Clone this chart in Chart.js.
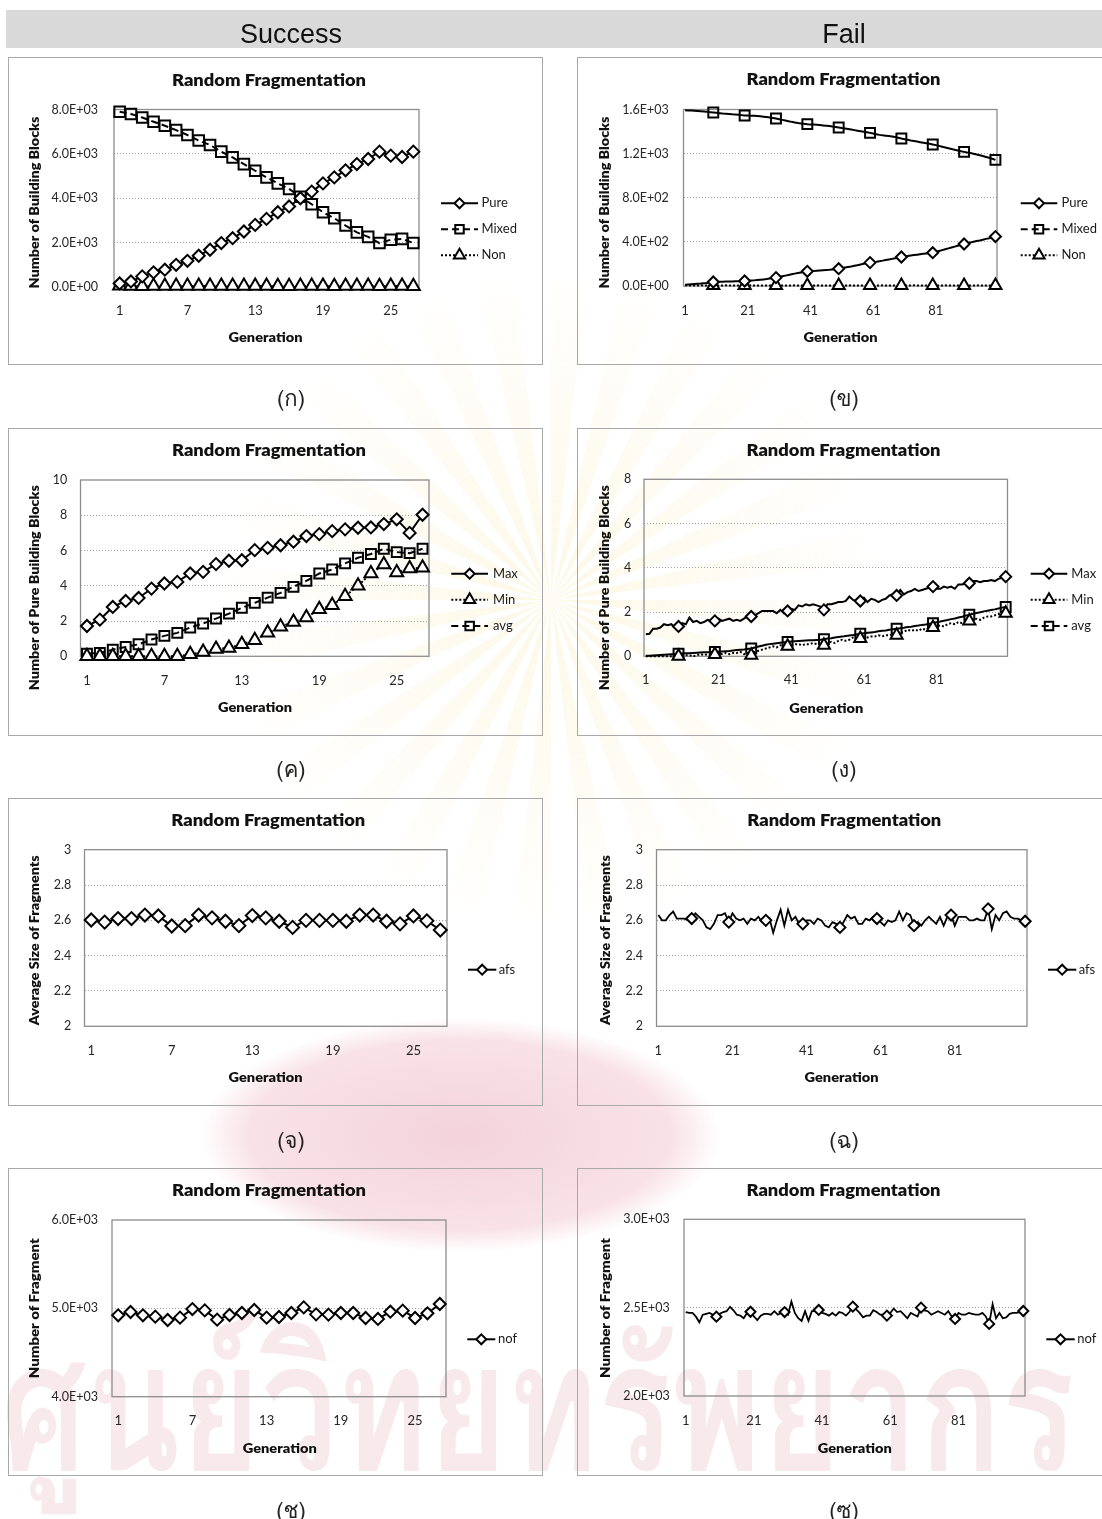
<!DOCTYPE html>
<html>
<head>
<meta charset="utf-8">
<script src="https://cdn.jsdelivr.net/npm/chart.js@4.4.1/dist/chart.umd.min.js"></script>
<style>
  html, body { margin: 0; padding: 0; background: #fff; }
  body { width: 1102px; height: 1519px; position: relative; overflow: hidden; }
  #wm { position: absolute; left: 0; top: 0; z-index: 0; }
  .band { position: absolute; left: 6px; top: 10px; width: 1096px; height: 38px; background: #d9d9d9; z-index: 1; }
  .head { position: absolute; top: 15px; height: 38px; width: 300px; margin-left: -150px;
          text-align: center; font: 27px "Liberation Sans", Arial, sans-serif; line-height: 38px; color: #111; z-index: 2; }
  .frame { position: absolute; border: 1px solid #a9a9a9; box-sizing: border-box; z-index: 1; }
  .cv { position: absolute; z-index: 3; }
  .cap { position: absolute; width: 80px; margin-left: -40px; text-align: center; z-index: 2;
         font: 22px "Norasi", "Kinnari", "Garuda", "Loma", "Noto Serif Thai", "Noto Sans Thai", "Waree", serif; color: #222; }
</style>
</head>
<body>
<canvas id="wm" width="1102" height="1519"></canvas>
<div class="band"></div>
<div class="head" style="left:291px">Success</div>
<div class="head" style="left:844px">Fail</div>
<div id="stage"></div>
<script>
// ---- generations (x categories) ----
const GEN27 = [1,2,3,4,5,6,7,8,9,10,11,12,13,14,15,16,17,18,19,20,21,22,23,24,25,26,27];
const GEN100 = [1,2,3,4,5,6,7,8,9,10,11,12,13,14,15,16,17,18,19,20,
  21,22,23,24,25,26,27,28,29,30,31,32,33,34,35,36,37,38,39,40,
  41,42,43,44,45,46,47,48,49,50,51,52,53,54,55,56,57,58,59,60,
  61,62,63,64,65,66,67,68,69,70,71,72,73,74,75,76,77,78,79,80,
  81,82,83,84,85,86,87,88,89,90,91,92,93,94,95,96,97,98,99,100];
const TICKS27 = [1,7,13,19,25];
const TICKS100 = [1,21,41,61,81];
const MARKED100 = [10,20,30,40,50,60,70,80,90,100];

// ---- (ก) building blocks, success ----
const BB_SUCCESS_PURE  = [160,250,480,660,780,1000,1180,1410,1680,1980,2200,2500,2800,3070,3370,3630,4000,4300,4670,4940,5260,5540,5770,6100,5920,5860,6100];
const BB_SUCCESS_MIXED = [7900,7800,7640,7450,7270,7070,6850,6600,6400,6100,5840,5540,5240,4940,4670,4420,4070,3730,3370,3100,2770,2460,2260,1980,2130,2170,1980];
const BB_SUCCESS_NON   = [60,45,30,50,45,40,40,45,50,40,45,40,45,40,35,30,40,40,45,30,45,40,45,35,40,45,35];

// ---- (ข) building blocks, fail ----
const BB_FAIL_PURE = [12,14,16,18,20,22,25,28,32,36, 37,38,39,40,40,41,42,43,44,45,
  47,49,51,54,57,60,63,67,71,76, 82,88,94,100,106,112,118,123,128,133,
  135,137,139,141,143,145,147,150,153,157, 162,167,172,177,183,189,195,201,206,212,
  216,220,225,230,236,241,246,251,257,263, 268,272,276,280,284,288,292,295,298,302,
  309,317,325,333,341,349,357,365,373,381, 388,395,401,407,413,420,427,433,440,448];
const BB_FAIL_MIXED = [1594,1592,1590,1588,1586,1584,1582,1579,1576,1573, 1570,1567,1564,1562,1560,1557,1555,1552,1549,1546,
  1545,1544,1543,1541,1538,1535,1531,1527,1523,1518, 1512,1506,1500,1494,1488,1483,1478,1474,1470,1467,
  1465,1463,1461,1459,1456,1453,1450,1446,1442,1437, 1432,1428,1423,1418,1413,1408,1403,1398,1393,1388,
  1382,1376,1370,1366,1363,1360,1356,1351,1344,1337, 1331,1325,1319,1314,1309,1304,1299,1294,1289,1283,
  1277,1270,1263,1256,1249,1242,1235,1229,1222,1216, 1210,1205,1199,1192,1185,1178,1170,1162,1153,1143];
const BB_FAIL_NON = [6,5,5,4,5,6,5,4,4,5, 5,4,5,6,5,4,4,5,5,4, 5,6,5,4,5,5,4,5,6,5,
  4,5,5,4,5,6,5,4,5,5, 4,5,5,6,5,4,5,5,4,5, 5,4,5,6,5,4,5,5,4,5,
  5,4,5,6,5,4,5,5,4,5, 5,4,5,6,5,4,5,5,4,5, 5,4,5,6,5,4,5,5,4,5, 5,4,5,6,5,4,5,5,4,5];

// ---- (ค) pure building blocks per individual, success ----
const PB_SUCCESS_MAX = [1.72,2.08,2.80,3.14,3.31,3.84,4.13,4.22,4.70,4.79,5.23,5.42,5.45,6.02,6.15,6.30,6.50,6.82,6.93,7.10,7.20,7.29,7.31,7.50,7.77,7.00,8.03];
const PB_SUCCESS_MIN = [0,0,0,0,0,0,0,0,0.11,0.25,0.42,0.47,0.68,0.91,1.33,1.67,1.95,2.20,2.67,2.90,3.41,4.00,4.70,5.21,4.75,4.98,5.02];
const PB_SUCCESS_AVG = [0.15,0.19,0.38,0.53,0.68,0.95,1.16,1.33,1.63,1.86,2.14,2.42,2.75,3.03,3.33,3.60,3.94,4.28,4.70,4.92,5.27,5.59,5.80,6.10,5.91,5.85,6.10];

// ---- (ง) pure building blocks per individual, fail ----
const PB_FAIL_MAX = [1.00,1.02,1.25,1.25,1.30,1.45,1.40,1.45,1.30,1.35, 1.50,1.45,1.75,1.55,1.60,1.50,1.55,1.65,1.60,1.60,
  1.70,1.60,1.65,1.70,1.60,1.65,1.60,1.70,1.80,1.80, 1.85,1.95,2.05,2.05,2.05,2.05,1.95,2.10,1.95,2.05,
  2.15,2.10,2.30,2.25,2.35,2.30,2.35,2.30,2.25,2.10, 2.35,2.35,2.40,2.45,2.45,2.50,2.70,2.55,2.50,2.50,
  2.65,2.45,2.60,2.55,2.45,2.55,2.60,2.75,2.80,2.75, 3.00,2.80,2.90,2.95,3.05,2.95,3.00,3.05,3.10,3.15,
  3.05,3.05,3.15,3.10,3.15,3.05,3.25,3.25,3.30,3.30, 3.40,3.40,3.35,3.40,3.40,3.45,3.40,3.50,3.55,3.60];
const PB_FAIL_MIN = [0,0,0,0,0,0,0,0,0,0, 0.05,0.05,0.05,0,0.05,0.10,0.05,0.10,0.05,0.08,
  0.10,0.10,0.15,0.10,0.15,0.15,0.20,0.10,0.15,0.05, 0.20,0.25,0.30,0.35,0.40,0.45,0.40,0.50,0.45,0.45,
  0.50,0.55,0.55,0.50,0.55,0.55,0.60,0.55,0.55,0.50, 0.60,0.65,0.60,0.70,0.75,0.70,0.75,0.85,0.80,0.80,
  0.90,0.85,0.90,0.90,0.95,0.90,0.95,0.95,1.00,0.95, 1.05,1.10,1.20,1.15,1.20,1.15,1.25,1.20,1.30,1.30,
  1.35,1.40,1.35,1.45,1.50,1.45,1.55,1.50,1.60,1.60, 1.65,1.70,1.65,1.75,1.80,1.80,1.85,1.90,1.95,1.95];
const PB_FAIL_AVG = [0.02,0.03,0.04,0.05,0.06,0.07,0.08,0.09,0.10,0.12, 0.13,0.14,0.14,0.15,0.16,0.17,0.18,0.18,0.19,0.20,
  0.21,0.22,0.23,0.24,0.26,0.28,0.30,0.31,0.33,0.35, 0.40,0.44,0.48,0.52,0.55,0.57,0.59,0.61,0.63,0.65,
  0.67,0.68,0.69,0.70,0.71,0.72,0.73,0.74,0.75,0.77, 0.80,0.82,0.85,0.87,0.89,0.92,0.94,0.96,0.99,1.02,
  1.04,1.06,1.08,1.10,1.13,1.15,1.17,1.20,1.22,1.25, 1.27,1.29,1.32,1.34,1.37,1.39,1.42,1.44,1.47,1.50,
  1.54,1.57,1.61,1.64,1.68,1.71,1.75,1.79,1.84,1.88, 1.92,1.96,1.99,2.03,2.06,2.09,2.12,2.16,2.20,2.23];

// ---- (จ)/(ฉ) average size of fragments ----
const AFS_SUCCESS = [2.602,2.59,2.61,2.61,2.63,2.625,2.568,2.57,2.63,2.614,2.595,2.57,2.627,2.614,2.595,2.56,2.60,2.60,2.60,2.595,2.63,2.63,2.595,2.58,2.625,2.597,2.545];
const AFS_FAIL = [2.63,2.60,2.60,2.63,2.65,2.61,2.61,2.61,2.60,2.61, 2.64,2.62,2.60,2.56,2.55,2.58,2.63,2.63,2.64,2.59,
  2.64,2.61,2.60,2.61,2.58,2.61,2.60,2.62,2.59,2.60, 2.61,2.53,2.60,2.66,2.57,2.66,2.60,2.62,2.58,2.58,
  2.60,2.60,2.58,2.61,2.60,2.57,2.56,2.59,2.58,2.56, 2.59,2.63,2.61,2.62,2.58,2.58,2.61,2.60,2.62,2.61,
  2.59,2.57,2.60,2.59,2.60,2.65,2.60,2.64,2.63,2.57, 2.59,2.57,2.60,2.62,2.60,2.58,2.62,2.57,2.62,2.63,
  2.57,2.62,2.62,2.62,2.60,2.60,2.61,2.60,2.60,2.665, 2.55,2.63,2.60,2.64,2.65,2.62,2.61,2.61,2.60,2.595];

// ---- (ช)/(ซ) number of fragments ----
const NOF_SUCCESS = [4921,4959,4921,4906,4868,4895,4992,4977,4872,4925,4947,4981,4895,4902,4947,5011,4932,4929,4947,4947,4891,4880,4962,4974,4891,4944,5049];
const NOF_FAIL = [2475,2470,2470,2449,2417,2460,2465,2470,2460,2449, 2465,2475,2480,2505,2485,2460,2455,2440,2470,2477,
  2450,2430,2455,2465,2465,2460,2480,2460,2470,2475, 2460,2534,2470,2440,2425,2480,2425,2480,2480,2487,
  2470,2465,2455,2470,2455,2475,2470,2455,2475,2506, 2490,2470,2445,2455,2455,2485,2475,2460,2460,2455,
  2470,2495,2475,2480,2460,2440,2470,2460,2450,2500, 2485,2480,2460,2470,2480,2470,2460,2480,2450,2436,
  2470,2460,2460,2470,2465,2460,2460,2470,2450,2408, 2520,2440,2470,2440,2445,2465,2470,2470,2475,2481];

// ---- label formats ----
function sci(v) {
  if (v === 0) return '0.0E+00';
  const e = Math.floor(Math.log10(Math.abs(v)) + 1e-9);
  const m = v / Math.pow(10, e);
  return m.toFixed(1) + 'E+' + String(e).padStart(2, '0');
}
function plain(v) { return String(Math.round(v * 10) / 10); }

// ---- line/marker looks ----
const LOOK = {
  solid: { dash: [], style: 'rectRot', fill: '#ffffff' },
  dash:  { dash: [7, 4], style: 'rect', fill: 'rgba(255,255,255,0)' },
  dot:   { dash: [2, 2], style: 'triangle', fill: '#ffffff' }
};

const SPECS = [
  { box: [8, 57, 543, 365], plot: [114, 109.5, 419, 287], gens: GEN27, ticks: TICKS27, marked: null,
    y: { min: 0, max: 8000, step: 2000, fmt: sci, right: 98 }, xTickY: 310,
    title: [269, 80.7], yTitle: ['Number of Building Blocks', 34.7, 202.5, 172], xTitle: [265.5, 337.7],
    legend: { x0: 441, x1: 478, tx: 481.5, ys: [203.3, 229.3, 255.3] }, lw: 2,
    series: [ { name: 'Pure', data: BB_SUCCESS_PURE, look: 'solid', r: 6, lr: 5 },
              { name: 'Mixed', data: BB_SUCCESS_MIXED, look: 'dash', r: 7.5, lr: 6 },
              { name: 'Non', data: BB_SUCCESS_NON, look: 'dot', r: 7.5, lr: 6.5 } ] },
  { box: [577, 57, 1112, 365], plot: [683.5, 109.5, 997, 286], gens: GEN100, ticks: TICKS100, marked: MARKED100,
    y: { min: 0, max: 1600, step: 400, fmt: sci, right: 668.7 }, xTickY: 310,
    title: [843.5, 80], yTitle: ['Number of Building Blocks', 604.7, 202.5, 172], xTitle: [840.5, 337.7],
    legend: { x0: 1020.7, x1: 1057.3, tx: 1061.5, ys: [203.3, 229.3, 255.3] }, lw: 2,
    series: [ { name: 'Pure', data: BB_FAIL_PURE, look: 'solid', r: 5.5, lr: 5 },
              { name: 'Mixed', data: BB_FAIL_MIXED, look: 'dash', r: 7, lr: 6 },
              { name: 'Non', data: BB_FAIL_NON, look: 'dot', r: 7, lr: 6.5 } ] },
  { box: [8, 428, 543, 736], plot: [80.5, 480, 429, 656.3], gens: GEN27, ticks: TICKS27, marked: null,
    y: { min: 0, max: 10, step: 2, fmt: plain, right: 67.3 }, xTickY: 680.3,
    title: [269, 451], yTitle: ['Number of Pure Building Blocks', 34.7, 587.7, 205], xTitle: [255, 708],
    legend: { x0: 451.3, x1: 488, tx: 493, ys: [573.7, 599.7, 626] }, lw: 2,
    series: [ { name: 'Max', data: PB_SUCCESS_MAX, look: 'solid', r: 6, lr: 5 },
              { name: 'Min', data: PB_SUCCESS_MIN, look: 'dot', r: 7.5, lr: 6.5 },
              { name: 'avg', data: PB_SUCCESS_AVG, look: 'dash', r: 7, lr: 6 } ] },
  { box: [577, 428, 1112, 736], plot: [644, 479.3, 1007.5, 656.3], gens: GEN100, ticks: TICKS100, marked: MARKED100,
    y: { min: 0, max: 8, step: 2, fmt: plain, right: 631.3 }, xTickY: 679.3,
    title: [843.5, 451], yTitle: ['Number of Pure Building Blocks', 604.7, 587.7, 205], xTitle: [826.3, 708.7],
    legend: { x0: 1030.7, x1: 1067.3, tx: 1071.3, ys: [573.7, 599.7, 626] }, lw: 2,
    series: [ { name: 'Max', data: PB_FAIL_MAX, look: 'solid', r: 5.5, lr: 5 },
              { name: 'Min', data: PB_FAIL_MIN, look: 'dot', r: 7, lr: 6.5 },
              { name: 'avg', data: PB_FAIL_AVG, look: 'dash', r: 7, lr: 6 } ] },
  { box: [8, 798, 543, 1106], plot: [84.5, 849.7, 447, 1026.3], gens: GEN27, ticks: TICKS27, marked: null,
    y: { min: 2, max: 3, step: 0.2, fmt: plain, right: 71.3 }, xTickY: 1050.3,
    title: [268.3, 821], yTitle: ['Average Size of Fragments', 34.7, 940.3, 170], xTitle: [265.5, 1078],
    legend: { x0: 468, x1: 496.3, tx: 498.7, ys: [969.7] }, lw: 2,
    series: [ { name: 'afs', data: AFS_SUCCESS, look: 'solid', r: 6.5, lr: 5 } ] },
  { box: [577, 798, 1112, 1106], plot: [656.5, 849.7, 1027, 1026.3], gens: GEN100, ticks: TICKS100, marked: MARKED100,
    y: { min: 2, max: 3, step: 0.2, fmt: plain, right: 643 }, xTickY: 1050.3,
    title: [844.3, 821], yTitle: ['Average Size of Fragments', 605.7, 940, 170], xTitle: [841.5, 1078],
    legend: { x0: 1048, x1: 1076.3, tx: 1078.7, ys: [969.7] }, lw: 1.8,
    series: [ { name: 'afs', data: AFS_FAIL, look: 'solid', r: 5.5, lr: 5 } ] },
  { box: [8, 1168, 543, 1476], plot: [112, 1220, 446, 1396.7], gens: GEN27, ticks: TICKS27, marked: null,
    y: { min: 4000, max: 6000, step: 1000, fmt: sci, right: 98 }, xTickY: 1420,
    title: [269, 1190.7], yTitle: ['Number of Fragment', 34.7, 1308.3, 140], xTitle: [279.7, 1449],
    legend: { x0: 467.3, x1: 495.3, tx: 498, ys: [1339.3] }, lw: 2,
    series: [ { name: 'nof', data: NOF_SUCCESS, look: 'solid', r: 6, lr: 5 } ] },
  { box: [577, 1168, 1112, 1476], plot: [684, 1219.3, 1025, 1396], gens: GEN100, ticks: TICKS100, marked: MARKED100,
    y: { min: 2000, max: 3000, step: 500, fmt: sci, right: 669.7 }, xTickY: 1420,
    title: [843.5, 1190.7], yTitle: ['Number of Fragment', 605.7, 1308, 140], xTitle: [854.7, 1449],
    legend: { x0: 1046.3, x1: 1074.7, tx: 1077.3, ys: [1339.3] }, lw: 1.8,
    series: [ { name: 'nof', data: NOF_FAIL, look: 'solid', r: 5, lr: 5 } ] }
];

const CAPTIONS = [
  ['(ก)', 291, 395], ['(ข)', 844, 395],
  ['(ค)', 291, 766], ['(ง)', 844, 766],
  ['(จ)', 291, 1137], ['(ฉ)', 844, 1137],
  ['(ช)', 291, 1507], ['(ซ)', 844, 1507]
];

const PAGE_W = 1102;
const FONT = 'Lato, "Open Sans", sans-serif';

// text squeezed or stretched to a set width
function fitText(ctx, text, x, y, font, width, vertical) {
  ctx.save();
  ctx.font = font;
  const w = ctx.measureText(text).width;
  ctx.translate(x, y);
  if (vertical) ctx.rotate(-Math.PI / 2);
  if (width) ctx.scale(width / w, 1);
  ctx.textAlign = 'center';
  ctx.textBaseline = 'middle';
  ctx.fillStyle = '#111';
  ctx.fillText(text, 0, 0);
  ctx.restore();
}

// ---- background seal & caption watermark ----
(function drawWatermark() {
  const c = document.getElementById('wm').getContext('2d');
  // sun rays behind the emblem
  c.save();
  c.translate(551, 600);
  for (let k = 0; k < 28; k++) {
    const a = -Math.PI + k * (Math.PI * 2 / 28);
    const g = c.createRadialGradient(0, 0, 40, 0, 0, 330);
    g.addColorStop(0, 'rgba(245,215,120,0.16)');
    g.addColorStop(1, 'rgba(245,215,120,0)');
    c.fillStyle = g;
    c.beginPath();
    c.moveTo(0, 0);
    c.arc(0, 0, 330, a, a + Math.PI / 28);
    c.closePath();
    c.fill();
  }
  c.restore();
  // pink halo
  c.save();
  c.translate(460, 1135);
  c.scale(1, 0.45);
  const pg = c.createRadialGradient(0, 0, 20, 0, 0, 260);
  pg.addColorStop(0, 'rgba(232,160,178,0.45)');
  pg.addColorStop(0.8, 'rgba(232,160,178,0.3)');
  pg.addColorStop(1, 'rgba(232,160,178,0)');
  c.fillStyle = pg;
  c.beginPath();
  c.arc(0, 0, 260, 0, Math.PI * 2);
  c.fill();
  c.restore();
  // institution name
  c.save();
  c.font = 'bold 180px "Loma", "Garuda", "Norasi", "Noto Sans Thai", sans-serif';
  const t = 'ศูนย์วิทยทรัพยากร';
  const w = c.measureText(t).width;
  c.translate(0, 1470);
  c.scale(1075 / w, 1);
  c.fillStyle = 'rgba(225,165,180,0.24)';
  c.textBaseline = 'alphabetic';
  c.fillText(t, 0, 0);
  c.restore();
})();

const stage = document.getElementById('stage');

CAPTIONS.forEach(([t, x, y]) => {
  const d = document.createElement('div');
  d.className = 'cap';
  d.textContent = t;
  d.style.left = x + 'px';
  d.style.top = (y - 14) + 'px';
  stage.appendChild(d);
});

SPECS.forEach((s, idx) => {
  const [bx0, by0, bx1, by1] = s.box;
  const frame = document.createElement('div');
  frame.className = 'frame';
  frame.style.left = bx0 + 'px';
  frame.style.top = by0 + 'px';
  frame.style.width = (bx1 - bx0) + 'px';
  frame.style.height = (by1 - by0) + 'px';
  stage.appendChild(frame);

  const cw = Math.min(bx1, PAGE_W) - bx0;
  const ch = by1 - by0;
  const cv = document.createElement('canvas');
  cv.className = 'cv';
  cv.width = cw; cv.height = ch;
  cv.style.left = bx0 + 'px';
  cv.style.top = by0 + 'px';
  cv.style.width = cw + 'px';
  cv.style.height = ch + 'px';
  stage.appendChild(cv);

  const [px0, py0, px1, py1] = s.plot;
  const L = v => v - bx0, T = v => v - by0;

  const datasets = s.series.map(ser => {
    const lk = LOOK[ser.look];
    // long runs: the dash restarts on each short segment, so the dashed series reads as a solid stroke
    const lineDash = (s.marked && ser.look === 'dash') ? [] : lk.dash;
    return {
      label: ser.name,
      data: ser.data,
      borderColor: '#000',
      borderWidth: s.lw,
      borderDash: lineDash,
      tension: 0,
      fill: false,
      pointStyle: lk.style,
      pointRadius: s.marked ? (c => s.marked.includes(s.gens[c.dataIndex]) ? ser.r : 0) : ser.r,
      pointBackgroundColor: lk.fill,
      pointBorderColor: '#000',
      pointBorderWidth: 2,
      clip: false,
      _legendRadius: ser.lr,
      _legendDash: lk.dash
    };
  });

  const decor = {
    id: 'decor' + idx,
    beforeDatasetsDraw(chart) {
      const a = chart.chartArea, ctx = chart.ctx;
      ctx.save();
      ctx.strokeStyle = '#8d8d8d';
      ctx.lineWidth = 1.3;
      ctx.strokeRect(a.left, a.top, a.right - a.left, a.bottom - a.top);
      ctx.restore();
    },
    afterDraw(chart) {
      const ctx = chart.ctx;
      fitText(ctx, 'Random Fragmentation', L(s.title[0]), T(s.title[1]), '800 17px ' + FONT, 194);
      fitText(ctx, s.yTitle[0], L(s.yTitle[1]), T(s.yTitle[2]), '800 13.5px ' + FONT, s.yTitle[3], true);
      fitText(ctx, 'Generation', L(s.xTitle[0]), T(s.xTitle[1]), '800 13.5px ' + FONT, 74);
      // legend
      const lg = s.legend;
      chart.data.datasets.forEach((ds, i) => {
        const y = T(lg.ys[i]);
        ctx.save();
        ctx.strokeStyle = '#000';
        ctx.lineWidth = 2;
        ctx.setLineDash(ds._legendDash);
        ctx.beginPath();
        ctx.moveTo(L(lg.x0), y);
        ctx.lineTo(L(lg.x1), y);
        ctx.stroke();
        ctx.setLineDash([]);
        ctx.fillStyle = ds.pointBackgroundColor;
        ctx.strokeStyle = '#000';
        ctx.lineWidth = 2;
        Chart.helpers.drawPoint(ctx, { pointStyle: ds.pointStyle, radius: ds._legendRadius, rotation: 0, borderWidth: 2 },
          (L(lg.x0) + L(lg.x1)) / 2, y);
        ctx.fillStyle = '#1a1a1a';
        ctx.font = '13px ' + FONT;
        ctx.textAlign = 'left';
        ctx.textBaseline = 'middle';
        ctx.fillText(ds.label, L(lg.tx), y);
        ctx.restore();
      });
    }
  };

  new Chart(cv, {
    type: 'line',
    data: { labels: s.gens, datasets },
    options: {
      responsive: false,
      animation: false,
      devicePixelRatio: 1,
      events: [],
      layout: { padding: { top: T(py0), right: cw - L(px1), bottom: 0, left: 0 } },
      plugins: { legend: { display: false }, title: { display: false }, tooltip: { enabled: false } },
      scales: {
        x: {
          type: 'category',
          offset: true,
          grid: { display: false },
          border: { display: false },
          afterFit: sc => { sc.height = ch - T(py1); },
          ticks: {
            autoSkip: false, maxRotation: 0, minRotation: 0,
            padding: s.xTickY - py1 - 15,
            color: '#262626',
            font: { family: FONT, size: 13 },
            callback: (v, i) => s.ticks.includes(s.gens[i]) ? String(s.gens[i]) : ''
          }
        },
        y: {
          min: s.y.min, max: s.y.max,
          afterFit: sc => { sc.width = L(px0); },
          grid: {
            drawTicks: false,
            lineWidth: 1,
            color: c => (c.tick && (Math.abs(c.tick.value - s.y.min) < 1e-9 || Math.abs(c.tick.value - s.y.max) < 1e-9))
              ? 'rgba(0,0,0,0)' : '#a3a3a3'
          },
          border: { display: false, dash: [1, 2] },
          ticks: {
            stepSize: s.y.step,
            padding: px0 - s.y.right,
            color: '#262626',
            font: { family: FONT, size: 12.5 },
            callback: v => s.y.fmt(v)
          }
        }
      }
    },
    plugins: [decor]
  });
});
</script>
</body>
</html>
